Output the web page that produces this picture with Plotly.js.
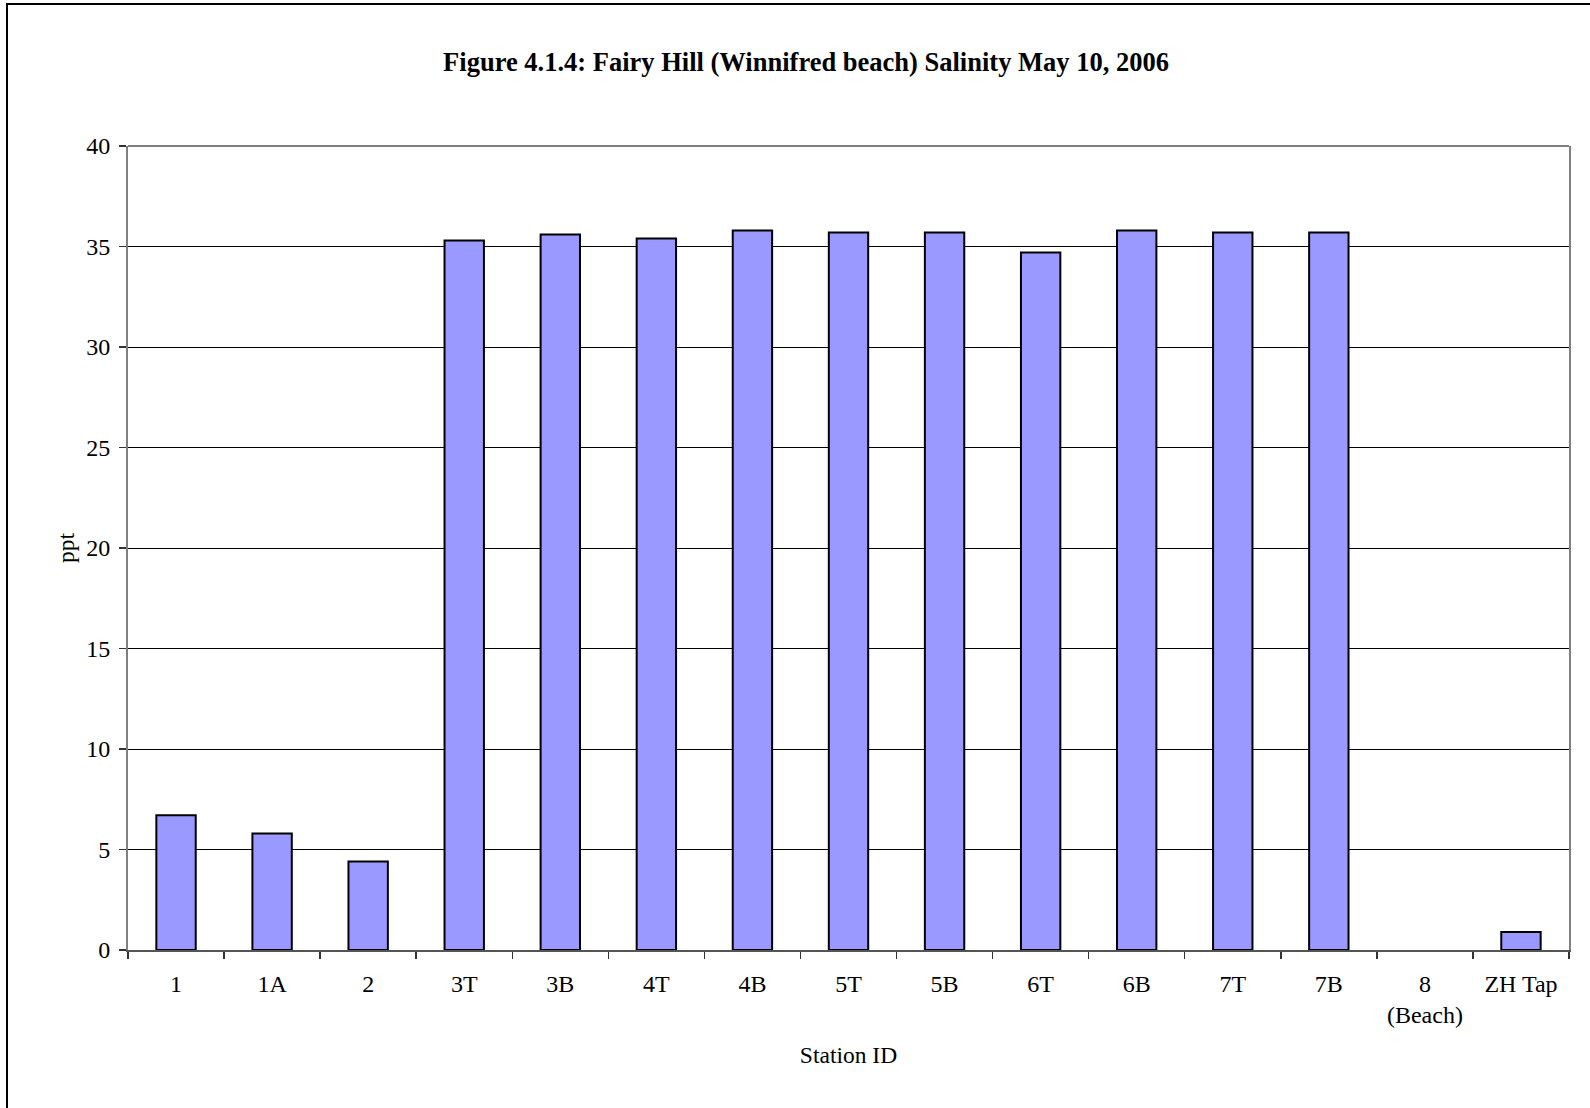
<!DOCTYPE html>
<html>
<head>
<meta charset="utf-8">
<script src="https://cdn.plot.ly/plotly-3.0.1.min.js"></script>
<style>
  html, body { margin: 0; padding: 0; background: #fff; }
  #chart { width: 1590px; height: 1108px; }
</style>
</head>
<body>
<div id="chart"></div>
<script>
const stations = ["1", "1A", "2", "3T", "3B", "4T", "4B", "5T", "5B", "6T", "6B", "7T", "7B", "8<br>(Beach)", "ZH Tap"];
const salinity = [6.7, 5.8, 4.4, 35.3, 35.6, 35.4, 35.8, 35.7, 35.7, 34.7, 35.8, 35.7, 35.7, null, 0.9];
const yTicks = [0, 5, 10, 15, 20, 25, 30, 35, 40];

const serif = "'Liberation Serif', 'Times New Roman', serif";

const trace = {
  type: "bar",
  x: stations,
  y: salinity,
  width: 0.41,
  marker: { color: "#9999FF", line: { color: "#000000", width: 2 } },
  hoverinfo: "x+y"
};

const layout = {
  width: 1590,
  height: 1108,
  margin: { l: 128, r: 21, t: 146, b: 158, pad: 0 },
  paper_bgcolor: "#ffffff",
  plot_bgcolor: "#ffffff",
  font: { family: serif, size: 24, color: "#000000" },
  showlegend: false,
  bargap: 0.59,
  title: {
    text: "<b>Figure 4.1.4: Fairy Hill (Winnifred beach) Salinity May 10, 2006</b>",
    font: { family: serif, size: 26.5, color: "#000000" },
    x: 806 / 1590,
    xanchor: "center",
    y: 1 - 62 / 1108,
    yanchor: "middle"
  },
  xaxis: {
    type: "category",
    categoryorder: "array",
    categoryarray: stations,
    tickson: "boundaries",
    ticks: "outside",
    ticklen: 7,
    tickwidth: 1.5,
    tickcolor: "#333333",
    showline: true,
    linecolor: "#555555",
    linewidth: 2,
    mirror: false,
    showgrid: false,
    ticklabelstandoff: 11,
    tickfont: { family: serif, size: 24, color: "#000000" },
    title: {
      text: "Station ID",
      font: { family: serif, size: 23.5, color: "#000000" },
      standoff: 20
    }
  },
  yaxis: {
    range: [0, 40],
    tickvals: yTicks,
    ticktext: yTicks.map(String),
    ticks: "outside",
    ticklen: 7,
    tickwidth: 1.5,
    tickcolor: "#333333",
    showline: true,
    linecolor: "#808080",
    linewidth: 2,
    mirror: true,
    showgrid: true,
    gridcolor: "#000000",
    gridwidth: 1,
    zeroline: false,
    ticklabelstandoff: 4,
    tickfont: { family: serif, size: 24, color: "#000000" },
    title: {
      text: "ppt",
      font: { family: serif, size: 23.5, color: "#000000" },
      standoff: 5
    }
  },
  shapes: [
    {
      type: "rect",
      xref: "paper", yref: "paper",
      x0: (7 - 128) / 1441, x1: 1.05,
      y0: -0.3, y1: (950 - 4) / 804,
      line: { color: "#000000", width: 2 },
      fillcolor: "rgba(0,0,0,0)",
      layer: "below"
    },
    {
      type: "line",
      xref: "paper", yref: "paper",
      x0: 0, x1: 1, y0: 1, y1: 1,
      line: { color: "#808080", width: 2 }
    }
  ]
};

Plotly.newPlot("chart", [trace], layout, { displayModeBar: false, staticPlot: true });
</script>
</body>
</html>
